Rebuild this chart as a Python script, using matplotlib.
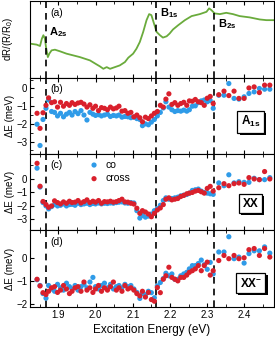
import matplotlib
matplotlib.use('Agg')
import matplotlib.pyplot as plt
import matplotlib.patheffects as pe
from matplotlib.ticker import MultipleLocator, FixedLocator

plt.rcParams['font.family'] = ['Liberation Sans', 'DejaVu Sans']
plt.rcParams['mathtext.fontset'] = 'custom'
plt.rcParams['mathtext.rm'] = 'Liberation Sans'
plt.rcParams['mathtext.bf'] = 'Liberation Sans:bold'
plt.rcParams['mathtext.default'] = 'regular'

# panel (a): reflectance contrast (arb. units)
e_refl = [1.824, 1.842, 1.851, 1.856, 1.860, 1.864, 1.867, 1.872, 1.876, 1.882,
          1.891, 1.905, 1.922, 1.958, 1.985, 2.003, 2.012, 2.021, 2.030, 2.039,
          2.052, 2.065, 2.079, 2.088, 2.101, 2.110, 2.119, 2.128, 2.137, 2.144,
          2.150, 2.157, 2.164, 2.173, 2.181, 2.191, 2.199, 2.208, 2.222, 2.240,
          2.258, 2.280, 2.298, 2.305, 2.311, 2.320, 2.334, 2.351, 2.369, 2.387,
          2.414, 2.441, 2.459, 2.477]
refl = [0.443, 0.430, 0.412, 0.509, 0.553, 0.509, 0.399, 0.267, 0.312, 0.355,
        0.364, 0.342, 0.312, 0.267, 0.224, 0.171, 0.145, 0.114, 0.136, 0.114,
        0.136, 0.158, 0.202, 0.259, 0.312, 0.377, 0.465, 0.596, 0.750, 0.829,
        0.816, 0.706, 0.596, 0.553, 0.522, 0.539, 0.575, 0.628, 0.684, 0.750,
        0.803, 0.829, 0.859, 0.904, 0.882, 0.838, 0.829, 0.846, 0.829, 0.803,
        0.786, 0.759, 0.750, 0.750]

# excitation energies (eV) for the shift data
energy = [1.843, 1.851, 1.859, 1.867, 1.874, 1.882, 1.890, 1.898, 1.906, 1.914,
          1.922, 1.930, 1.937, 1.945, 1.953, 1.961, 1.969, 1.977, 1.985, 1.993,
          2.000, 2.008, 2.016, 2.024, 2.032, 2.040, 2.048, 2.056, 2.063, 2.071,
          2.079, 2.087, 2.095, 2.103, 2.111, 2.119, 2.126, 2.134, 2.142, 2.150,
          2.158, 2.166, 2.174, 2.182, 2.189, 2.197, 2.205, 2.213, 2.221, 2.229,
          2.237, 2.245, 2.252, 2.260, 2.268, 2.276, 2.284, 2.292, 2.300, 2.308,
          2.316, 2.331, 2.345, 2.358, 2.372, 2.385, 2.399, 2.412, 2.426, 2.440,
          2.454, 2.468]

# (b) A1s
a1s_co = [-2.02, -3.22, -1.75, -1.12, -0.65, -1.30, -1.35, -1.55, -1.40, -1.60,
          -1.45, -1.35, -1.50, -1.30, -1.42, -1.25, -1.50, -1.78, -1.35, -1.45,
          -1.52, -1.48, -1.55, -1.50, -1.45, -1.58, -1.52, -1.55, -1.50, -1.62,
          -1.58, -1.60, -1.65, -1.62, -1.70, -1.75, -2.10, -2.00, -2.05, -1.90,
          -1.75, -1.55, -1.35, -1.10, -0.75, -1.05, -1.20, -1.30, -1.25, -1.28,
          -1.22, -1.28, -1.20, -1.00, -0.98, -0.80, -0.70, -0.65, -0.75, -0.68,
          -1.12, -0.38, -0.38, 0.28, -0.56, -0.60, -0.47, -0.28, -0.19, 0.00,
          -0.04, -0.04]
a1s_cross = [-1.40, -2.25, -1.37, -0.95, -0.53, -0.80, -0.75, -1.05, -0.78, -1.00,
             -0.85, -0.95, -0.80, -0.90, -0.82, -0.78, -0.88, -1.05, -0.92, -1.12,
             -1.00, -1.25, -1.08, -1.12, -1.20, -1.05, -1.15, -1.10, -1.00, -1.28,
             -1.25, -1.40, -1.35, -1.60, -1.50, -1.65, -1.88, -1.62, -1.70, -1.55,
             -1.40, -1.30, -0.95, -1.05, -0.60, -0.30, -0.90, -0.80, -0.95, -0.85,
             -0.78, -0.95, -0.70, -0.72, -0.62, -0.75, -0.80, -0.95, -0.55, -0.45,
             -0.85, -0.35, -0.15, -0.40, -0.15, -0.56, -0.56, 0.03, 0.09, -0.23,
             0.19, 0.19]

# (c) XX
xx_co = [0.80, -0.60, -1.75, -2.00, -2.22, -2.05, -1.90, -2.00, -1.95, -1.85,
         -2.00, -1.90, -1.88, -1.95, -1.80, -1.90, -1.85, -1.80, -1.90, -1.82,
         -1.85, -1.78, -1.85, -1.80, -1.82, -1.78, -1.80, -1.75, -1.72, -1.70,
         -1.78, -1.80, -1.75, -1.78, -2.35, -2.90, -2.70, -2.83, -2.75, -2.60,
         -2.35, -2.20, -1.95, -1.60, -1.40, -1.50, -1.45, -1.40, -1.35, -1.25,
         -1.20, -1.15, -1.05, -0.85, -0.80, -0.75, -0.90, -1.00, -1.05, -1.10,
         -1.14, -0.29, -0.50, 0.31, -0.29, -0.20, -0.25, -0.25, 0.05, -0.05,
         -0.05, 0.10]
xx_cross = [1.16, -0.54, -1.67, -1.90, -2.10, -2.00, -1.62, -1.75, -1.85, -1.70,
            -1.80, -1.65, -1.75, -1.72, -1.60, -1.78, -1.68, -1.55, -1.75, -1.65,
            -1.72, -1.60, -1.80, -1.68, -1.70, -1.65, -1.72, -1.68, -1.60, -1.50,
            -1.70, -1.72, -1.80, -1.86, -2.17, -2.55, -2.35, -2.45, -2.60, -2.80,
            -2.55, -2.30, -2.15, -1.90, -1.50, -1.40, -1.55, -1.50, -1.45, -1.30,
            -1.22, -1.10, -1.05, -1.00, -0.90, -0.85, -0.95, -1.05, -0.70, -0.55,
            -0.90, -0.65, -0.35, -0.50, -0.35, -0.30, -0.40, 0.10, 0.00, -0.05,
            0.55, 0.00]

# (d) XX-
xxm_co = [-0.95, -1.20, -1.55, -1.75, -1.20, -1.35, -1.45, -1.15, -1.30, -1.40,
          -1.10, -1.25, -1.35, -1.20, -1.40, -1.25, -1.15, -1.30, -1.05, -0.85,
          -1.25, -1.35, -1.20, -1.10, -1.30, -1.15, -1.35, -1.25, -1.20, -1.30,
          -1.15, -1.25, -1.20, -1.35, -1.50, -1.76, -1.55, -1.60, -1.45, -1.51,
          -1.73, -1.22, -1.07, -0.90, -0.67, -0.78, -0.70, -0.93, -0.93, -0.78,
          -0.70, -0.63, -0.48, -0.34, -0.34, -0.25, -0.10, -0.30, -0.50, -0.20,
          -0.70, 0.25, 0.25, 0.91, -0.04, 0.03, -0.23, 0.18, 0.30, 0.30,
          0.47, 0.20]
xxm_cross = [-0.93, -1.22, -1.51, -1.59, -1.45, -1.30, -1.25, -1.50, -1.40, -1.20,
             -1.35, -1.55, -1.45, -1.30, -1.25, -1.45, -1.05, -1.40, -1.30, -1.50,
             -1.35, -1.20, -1.45, -1.30, -1.40, -1.25, -1.05, -1.40, -1.30, -1.45,
             -1.20, -1.35, -1.30, -1.40, -1.55, -1.65, -1.45, -1.70, -1.50, -1.81,
             -1.88, -1.29, -1.51, -0.93, -0.78, -0.41, -0.85, -0.93, -1.00, -0.85,
             -0.85, -0.75, -0.63, -0.56, -0.48, -0.34, -0.56, -0.34, -0.19, -0.75,
             -0.56, -0.12, 0.10, -0.04, 0.10, -0.04, 0.00, 0.35, 0.40, 0.10,
             0.40, 0.03]

resonances = [1.866, 2.162, 2.317]
blue = '#2f9be8'
red = '#d9202c'
green = '#6aab3c'

fig, axs = plt.subplots(4, 1, figsize=(2.75, 3.43), dpi=100, sharex=True)
fig.subplots_adjust(left=0.109, right=0.996, top=0.997, bottom=0.105, hspace=0)

ax = axs[0]
ax.plot(e_refl, refl, color=green, lw=1.3)
ax.set_ylim(0, 1)
ax.set_yticks([])
ax.set_ylabel('dR/(R/R$_0$)', fontsize=7)
ax.text(0.082, 0.85, '(a)', transform=ax.transAxes, fontsize=7.5, va='center')
ax.text(0.078, 0.59, 'A$_{\\mathbf{2s}}$', transform=ax.transAxes, fontsize=8,
        fontweight='bold', va='center')
ax.text(0.535, 0.84, 'B$_{\\mathbf{1s}}$', transform=ax.transAxes, fontsize=8,
        fontweight='bold', va='center')
ax.text(0.77, 0.70, 'B$_{\\mathbf{2s}}$', transform=ax.transAxes, fontsize=8,
        fontweight='bold', va='center')

panels = [(axs[1], a1s_co, a1s_cross, (-3.7, 0.62), '(b)', 'A$_{\\mathbf{1s}}$', 0.42),
          (axs[2], xx_co, xx_cross, (-3.82, 1.85), '(c)', 'XX', 0.35),
          (axs[3], xxm_co, xxm_cross, (-2.13, 1.18), '(d)', 'XX$^{\\mathbf{-}}$', 0.31)]

for ax, co, cross, lim, lab, name, ypos in panels:
    ax.scatter(energy, co, s=14, color=blue, edgecolors='none', label='co', zorder=3)
    ax.scatter(energy, cross, s=14, color=red, edgecolors='none', label='cross', zorder=4)
    ax.set_ylim(lim)
    ax.set_ylabel('\u0394E (meV)', fontsize=7)
    ax.text(0.085, 0.855, lab, transform=ax.transAxes, fontsize=7.5, va='center')
    t = ax.text(0.905, ypos, name, transform=ax.transAxes, fontsize=8.5, fontweight='bold',
                ha='center', va='center',
                bbox=dict(boxstyle='square,pad=0.3', fc='white', ec='black', lw=0.9))
    t.get_bbox_patch().set_path_effects([
        pe.SimplePatchShadow(offset=(1.5, -1.5), shadow_rgbFace='black', alpha=1),
        pe.Normal()])

axs[1].set_yticks([-3, -2, -1, 0])
axs[1].yaxis.set_minor_locator(MultipleLocator(0.5))
axs[2].set_yticks([-3, -2, -1, 0])
axs[2].yaxis.set_minor_locator(FixedLocator([1]))
axs[3].set_yticks([-2, -1, 0])

axs[2].legend(loc='upper left', bbox_to_anchor=(0.19, 1.02), frameon=False, fontsize=7.5,
              handletextpad=0.1, labelspacing=0.35, borderpad=0.2, markerscale=1.0)

for ax in axs:
    for e in resonances:
        ax.axvline(e, color='black', lw=1.2, dashes=(4, 3), zorder=2)
    ax.set_xlim(1.824, 2.479)
    ax.xaxis.set_major_locator(MultipleLocator(0.1))
    ax.xaxis.set_minor_locator(MultipleLocator(0.05))
    ax.tick_params(which='both', direction='in', top=True, labelsize=7, pad=2)
    ax.tick_params(which='major', length=3)
    ax.tick_params(which='minor', length=2)
    ax.yaxis.set_label_coords(-0.062, 0.5)

axs[3].set_xlabel('Excitation Energy (eV)', fontsize=8.5, labelpad=3)

fig.savefig('out.png', dpi=100)
